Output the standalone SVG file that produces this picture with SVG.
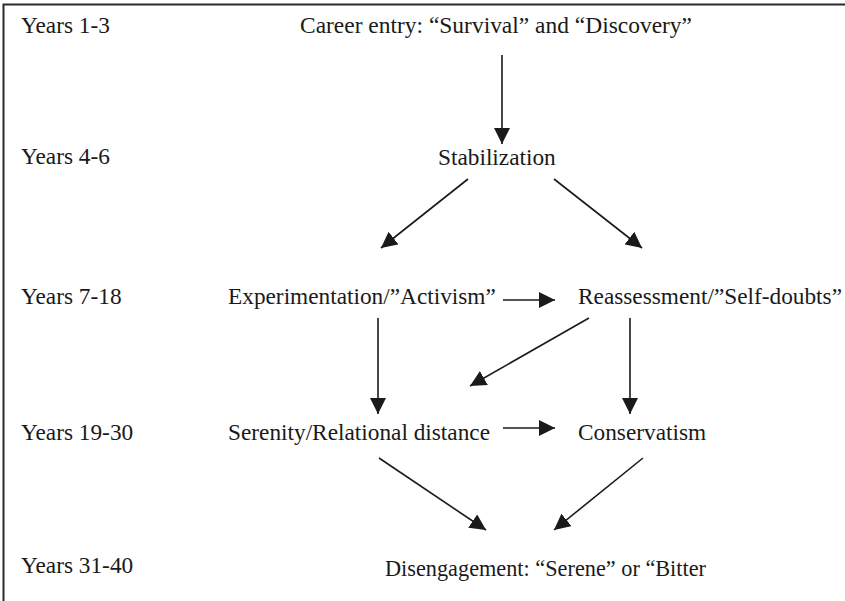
<svg xmlns="http://www.w3.org/2000/svg" width="845" height="601" viewBox="0 0 845 601">
  <style>
    text { font-family: "Liberation Serif", "Times New Roman", serif; font-size: 23.3px; fill: #1a1a1a; }
    .edge { stroke: #1a1a1a; stroke-width: 1.6; fill: none; marker-end: url(#arrow); }
    .frame { stroke: #2a2a2a; stroke-width: 2; fill: none; }
  </style>
  <defs>
    <marker id="arrow" markerUnits="userSpaceOnUse" markerWidth="17" markerHeight="16" refX="16" refY="8" orient="auto">
      <path d="M0,0 L16,8 L0,16 z" fill="#1a1a1a"/>
    </marker>
  </defs>
  <rect width="845" height="601" fill="#ffffff"/>
  <path class="frame" d="M3.5,601 L3.5,4.5 L845,4.5"/>

  <g id="year-labels">
    <text x="21" y="33">Years 1-3</text>
    <text x="21" y="164">Years 4-6</text>
    <text x="21" y="304">Years 7-18</text>
    <text x="21" y="440">Years 19-30</text>
    <text x="21" y="573">Years 31-40</text>
  </g>

  <g id="career-entry"><text x="300" y="33" textLength="392" lengthAdjust="spacingAndGlyphs">Career entry: “Survival” and “Discovery”</text></g>
  <g id="stabilization"><text x="438" y="165">Stabilization</text></g>
  <g id="experimentation"><text x="228" y="304">Experimentation/”Activism”</text></g>
  <g id="reassessment"><text x="578" y="304">Reassessment/”Self-doubts”</text></g>
  <g id="serenity"><text x="228" y="440">Serenity/Relational distance</text></g>
  <g id="conservatism"><text x="578" y="440">Conservatism</text></g>
  <g id="disengagement"><text x="385" y="576" textLength="321" lengthAdjust="spacingAndGlyphs">Disengagement: “Serene” or “Bitter</text></g>

  <g id="connectors">
    <line class="edge" x1="502" y1="55" x2="502" y2="144"/>
    <line class="edge" x1="468" y1="179" x2="381" y2="248"/>
    <line class="edge" x1="554" y1="179" x2="642" y2="248"/>
    <line class="edge" x1="503" y1="300" x2="555" y2="300"/>
    <line class="edge" x1="378" y1="318" x2="378" y2="414"/>
    <line class="edge" x1="589" y1="318" x2="470" y2="386"/>
    <line class="edge" x1="630" y1="318" x2="630" y2="414"/>
    <line class="edge" x1="503" y1="428" x2="555" y2="428"/>
    <line class="edge" x1="379" y1="458" x2="486" y2="530"/>
    <line class="edge" x1="643" y1="458" x2="554" y2="530"/>
  </g>
</svg>
